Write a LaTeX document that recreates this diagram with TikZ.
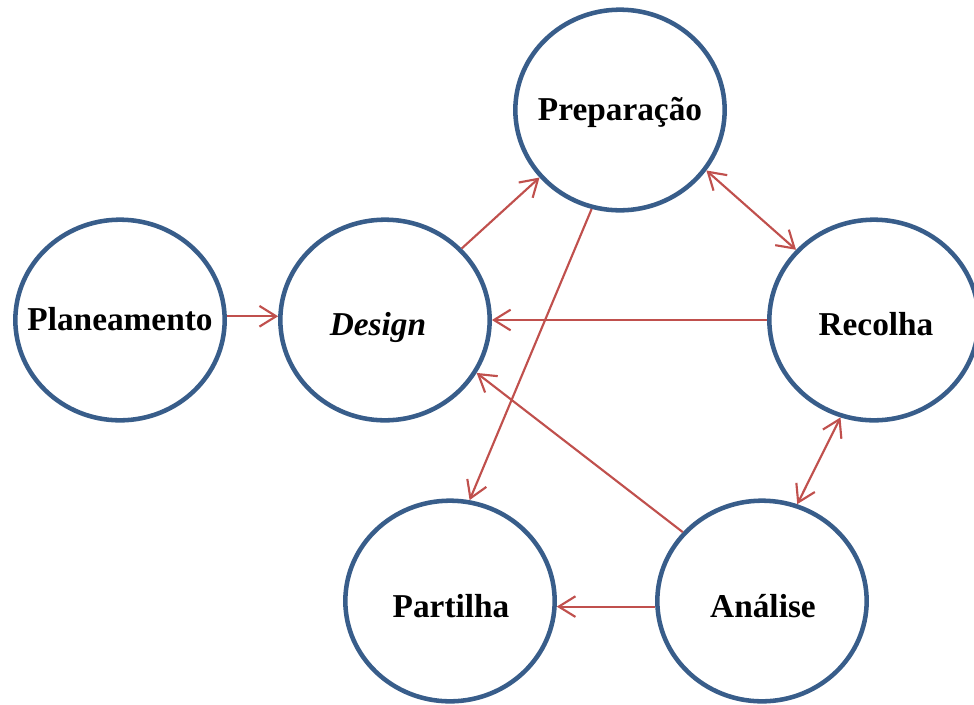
\documentclass[tikz,border=0pt]{standalone}
\usepackage{fontspec}
\setmainfont{Liberation Serif}
\usetikzlibrary{arrows.meta,shapes.geometric}
\definecolor{ringblue}{HTML}{385D8A}
\definecolor{linkred}{HTML}{C0504D}
\begin{document}
\begin{tikzpicture}[x=0.75pt,y=-0.75pt,
  stage/.style={ellipse,draw=ringblue,fill=white,line width=3.4pt,
    minimum width=157pt,minimum height=150.5pt,inner sep=0pt},
  caption/.style={anchor=base,font=\fontsize{25}{29}\selectfont\bfseries},
  link/.style={draw=linkred,line width=1.6pt},
  >={Straight Barb[length=12.5pt,width=15.5pt]}]
\useasboundingbox (0,0) rectangle (974,704);

% stages of the cycle
\node[stage] (plan)   at (120,320) {};
\node[stage] (design) at (385,320) {};
\node[stage] (prep)   at (620,110) {};
\node[stage] (recol)  at (874,320) {};
\node[stage] (anal)   at (762,601) {};
\node[stage] (part)   at (450,601) {};

% stage names
\node[caption] (tplan)   at (120,330) {Planeamento};
\node[caption] (tdesign) at (378,335) {\itshape Design};
\node[caption] (tprep)   at (620,120) {Preparação};
\node[caption] (trecol)  at (876,335) {Recolha};
\node[caption] (tanal)   at (763,617) {Análise};
\node[caption] (tpart)   at (451,617) {Partilha};

% transitions
\draw[link,->]  (plan.2)    -- (design.178);
\draw[link,->]  (design.43) -- (prep.220);
\draw[link,<->] (prep.325)  -- (recol.138);
\draw[link,->]  (recol.180) -- (design.0);
\draw[link,<->] (recol.251) -- (anal.70);
\draw[link,->]  (anal.139)  -- (design.330);
\draw[link,->]  (prep.254)  -- (part.79);
\draw[link,->]  (anal.183)  -- (part.357);
\end{tikzpicture}
\end{document}
